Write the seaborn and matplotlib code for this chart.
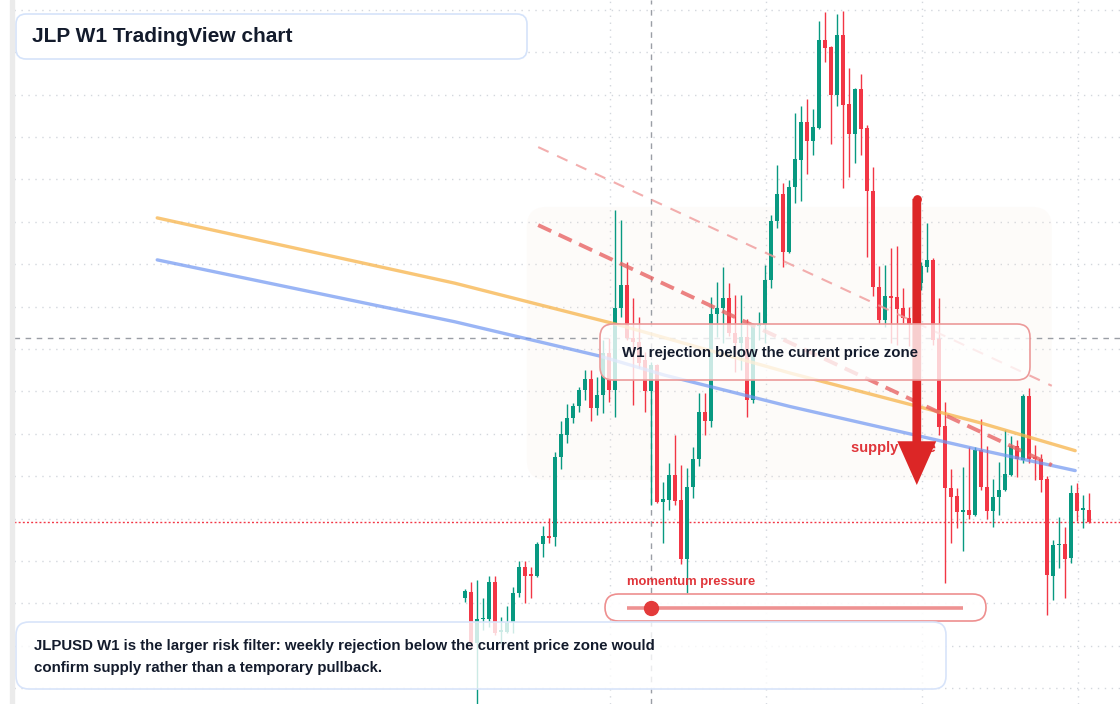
import matplotlib
matplotlib.use('Agg')
import matplotlib.pyplot as plt
import numpy as np
import pandas as pd
import seaborn as sns
from matplotlib.patches import FancyBboxPatch, FancyArrowPatch, Rectangle

# JLP 주봉(W1) 캔들 - 그림에서 읽은 값
opens = [3.812, 3.827, 3.706, 3.762, 3.763, 3.850, 3.732, 3.732, 3.756, 3.824,
         3.886, 3.867, 3.864, 3.940, 3.959, 3.956, 4.145, 4.197, 4.237, 4.265,
         4.303, 4.329, 4.261, 4.291, 4.390, 4.303, 4.496, 4.551, 4.426, 4.416,
         4.374, 4.301, 4.362, 4.039, 4.044, 4.103, 4.044, 3.904, 4.074, 4.140,
         4.251, 4.230, 4.482, 4.496, 4.520, 4.438, 4.414, 4.428, 4.279, 4.455,
         4.456, 4.563, 4.702, 4.765, 4.629, 4.782, 4.846, 4.935, 4.890, 4.921,
         5.129, 5.112, 4.999, 5.140, 4.978, 4.907, 5.013, 4.921, 4.772, 4.546,
         4.468, 4.525, 4.522, 4.496, 4.473, 4.461, 4.555, 4.593, 4.610, 4.423,
         4.218, 4.072, 4.053, 4.015, 4.020, 4.008, 4.162, 4.074, 4.018, 4.051,
         4.067, 4.103, 4.171, 4.138, 4.289, 4.145, 4.140, 4.093, 3.864, 3.937,
         3.940, 3.907, 4.060, 4.020, 4.020]
highs = [3.834, 3.850, 3.855, 3.812, 3.864, 3.864, 3.768, 3.794, 3.838, 3.900,
         3.900, 3.886, 3.945, 3.982, 4.001, 4.157, 4.230, 4.270, 4.272, 4.310,
         4.350, 4.350, 4.334, 4.421, 4.426, 4.728, 4.704, 4.605, 4.520, 4.475,
         4.393, 4.369, 4.364, 4.086, 4.131, 4.197, 4.126, 4.119, 4.169, 4.296,
         4.296, 4.522, 4.558, 4.593, 4.555, 4.527, 4.527, 4.471, 4.459, 4.487,
         4.598, 4.716, 4.834, 4.791, 4.798, 4.956, 4.973, 4.989, 4.966, 5.173,
         5.195, 5.114, 5.190, 5.197, 5.063, 5.015, 5.048, 4.928, 4.829, 4.596,
         4.598, 4.638, 4.643, 4.544, 4.499, 4.567, 4.605, 4.697, 4.614, 4.520,
         4.275, 4.117, 4.072, 4.121, 4.169, 4.169, 4.235, 4.171, 4.093, 4.133,
         4.209, 4.195, 4.185, 4.294, 4.308, 4.173, 4.152, 4.100, 3.949, 4.004,
         3.980, 4.079, 4.084, 4.055, 4.060]
lows = [3.803, 3.695, 3.544, 3.737, 3.744, 3.725, 3.706, 3.730, 3.730, 3.815,
        3.801, 3.812, 3.862, 3.909, 3.942, 3.935, 4.117, 4.178, 4.225, 4.251,
        4.279, 4.230, 4.244, 4.249, 4.275, 4.239, 4.475, 4.421, 4.268, 4.355,
        4.251, 4.032, 4.037, 3.942, 4.020, 4.032, 3.893, 3.824, 4.048, 4.124,
        4.197, 4.216, 4.428, 4.414, 4.430, 4.346, 4.350, 4.239, 4.272, 4.421,
        4.414, 4.544, 4.685, 4.593, 4.626, 4.744, 4.749, 4.813, 4.857, 4.919,
        5.077, 4.883, 4.973, 4.779, 4.805, 4.838, 4.857, 4.617, 4.525, 4.459,
        4.452, 4.414, 4.409, 4.461, 4.407, 4.445, 4.539, 4.581, 4.409, 4.197,
        3.848, 3.942, 3.978, 3.923, 3.999, 4.006, 4.067, 3.999, 3.980, 4.008,
        4.065, 4.101, 4.098, 4.131, 4.131, 4.091, 4.063, 3.772, 3.808, 3.883,
        3.812, 3.895, 3.994, 3.978, 3.989]
closes = [3.829, 3.706, 3.763, 3.766, 3.850, 3.730, 3.735, 3.756, 3.824, 3.886,
          3.864, 3.864, 3.940, 3.959, 3.955, 4.145, 4.199, 4.237, 4.265, 4.303,
          4.329, 4.261, 4.291, 4.390, 4.303, 4.496, 4.551, 4.426, 4.416, 4.367,
          4.301, 4.362, 4.039, 4.046, 4.103, 4.041, 3.904, 4.074, 4.140, 4.251,
          4.230, 4.482, 4.496, 4.520, 4.438, 4.414, 4.428, 4.279, 4.456, 4.459,
          4.563, 4.702, 4.765, 4.629, 4.782, 4.848, 4.935, 4.890, 4.923, 5.129,
          5.110, 4.999, 5.140, 4.975, 4.907, 5.013, 4.919, 4.772, 4.546, 4.468,
          4.525, 4.521, 4.494, 4.473, 4.459, 4.555, 4.596, 4.610, 4.421, 4.216,
          4.072, 4.051, 4.015, 4.020, 4.008, 4.162, 4.074, 4.018, 4.051, 4.067,
          4.105, 4.171, 4.140, 4.289, 4.140, 4.140, 4.091, 3.867, 3.938, 3.940,
          3.904, 4.060, 4.018, 4.022, 3.991]

# 이동평균선 두 개 (캔들 번호, 가격)
ma_fast_x = [-51.3, -1.7, 25.8, 54.2, 85.8, 101.7]
ma_fast = [4.709, 4.555, 4.456, 4.343, 4.226, 4.160]
ma_slow_x = [-51.3, -1.7, 22.5, 33.3, 54.2, 85.8, 101.7]
ma_slow = [4.610, 4.464, 4.383, 4.338, 4.264, 4.162, 4.113]

# 하락 추세선 두 개
trend_x = [12.2, 97.8]
trend_main = [4.692, 4.126]
trend_outer = [4.876, 4.313]

# 저항 구간, 화살표, 십자선
zone_x = [10.3, 97.8]
zone_y = [4.091, 4.735]
arrow_x = 75.3
arrow_from, arrow_to = 4.754, 4.079
supply_x, supply_y = 64.3, 4.166
cross_x, cross_y = 31, 4.425
time_ticks = [24.1, 50.1, 76.1, 102.1]
momentum = 0.07

title = 'JLP W1 TradingView chart'
zone_note = 'W1 rejection below the current price zone'
footer = ('JLPUSD W1 is the larger risk filter: weekly rejection below the current price zone would\n'
          'confirm supply rather than a temporary pullback.')

UP, DOWN = '#089981', '#f23645'
INK = '#131b2c'
W, H = 1120, 704

sns.set_theme(style='white')
plt.rcParams['font.family'] = ['Liberation Sans', 'DejaVu Sans']

df = pd.DataFrame({'o': opens, 'h': highs, 'l': lows, 'c': closes})
df['i'] = np.arange(len(df))
df['color'] = np.where(df.c >= df.o, UP, DOWN)
df['bottom'] = df[['o', 'c']].min(axis=1)
df['body'] = (df.c - df.o).abs().clip(lower=0.004)

fig = plt.figure(figsize=(W / 100, H / 100), dpi=100)
ax = fig.add_axes([14 / W, 0, 1 - 14 / W, 1])

# 구간 배경
zone = FancyBboxPatch((zone_x[0], zone_y[0]), zone_x[1] - zone_x[0], zone_y[1] - zone_y[0],
                      boxstyle='round,pad=0,rounding_size=3.3', mutation_aspect=6 / 424,
                      fc='#f5e2d4', ec='none', alpha=0.13, zorder=1)
ax.add_patch(zone)

# 십자선, 현재가 선
ax.axvline(cross_x, color='#9a9ea5', lw=1, ls=(0, (4, 4)), zorder=2)
ax.axhline(cross_y, color='#9a9ea5', lw=1, ls=(0, (4, 4)), zorder=2)
ax.axhline(closes[-1], color=DOWN, lw=1, ls=(0, (1.4, 1.6)), zorder=2)

# 캔들
ax.vlines(df.i, df.l, df.h, colors=df.color, lw=1, zorder=3)
ax.bar(df.i, df.body, bottom=df.bottom, width=0.8, color=df.color, lw=0, zorder=4)

# 이동평균선 / 추세선
sns.lineplot(x=ma_fast_x, y=ma_fast, ax=ax, color='#f7b44a', lw=2.4, alpha=0.75, sort=False, zorder=5)
sns.lineplot(x=ma_slow_x, y=ma_slow, ax=ax, color='#6f96f2', lw=2.4, alpha=0.7, sort=False, zorder=5)
ax.plot(trend_x, trend_outer, color='#f09a9a', lw=1.5, ls=(0, (5.5, 4.5)), alpha=0.8, zorder=5)
ax.plot(trend_x, trend_main, color='#e86464', lw=2.8, ls=(0, (3.7, 2.1)), alpha=0.8, zorder=5)

ax.text(supply_x, supply_y, 'supply zone', color='#e0353a', fontsize=10.5,
        fontweight='bold', va='center', zorder=6)
arrow = FancyArrowPatch((arrow_x, arrow_from), (arrow_x, arrow_to),
                        arrowstyle='simple,head_length=4.5,head_width=4,tail_width=0.9',
                        mutation_scale=7, color='#dc2626', lw=0, shrinkA=0, shrinkB=0, zorder=7)
ax.add_patch(arrow)
ax.plot([arrow_x], [arrow_from], marker='o', ms=6.3, mew=0, color='#dc2626', zorder=7)

# 축 범위와 그리드
ax.set_xlim(-75.17, 109.17)
ax.set_ylim(3.5625, 5.2229)
ax.set_yticks(np.arange(3.6, 5.25, 0.1))
ax.set_xticks(time_ticks)
ax.grid(True, color='#d3d7dd', lw=1, ls=(0, (1, 4)))
ax.tick_params(length=0, labelleft=False, labelbottom=False)
ax.set_xlabel('')
ax.set_ylabel('')
for s in ax.spines.values():
    s.set_visible(False)
ax.set_axisbelow(True)


def card(x0, y0, x1, y1, r, fc, ec, lw, z=10):
    p = FancyBboxPatch((x0 / W, 1 - y1 / H), (x1 - x0) / W, (y1 - y0) / H,
                       boxstyle=f'round,pad=0,rounding_size={r / W}', mutation_aspect=W / H,
                       transform=fig.transFigure, fc=fc, ec=ec, lw=lw, zorder=z)
    fig.add_artist(p)


# 제목
card(16, 14, 527, 59, 10, 'white', '#d5e3fa', 1.2)
fig.text(32 / W, 1 - 36.5 / H, title, fontsize=15, fontweight='bold', color=INK, va='center', zorder=11)

# 구간 설명 박스
card(600, 324, 1030, 380, 13, (1, 1, 1, 0.78), '#ec9a9a', 1.2)
fig.text(622 / W, 1 - 353 / H, zone_note, fontsize=10.8, fontweight='bold', color=INK,
         va='center', zorder=11)

# 모멘텀 슬라이더
fig.text(627 / W, 1 - 582 / H, 'momentum pressure', fontsize=9.4, fontweight='bold',
         color='#e0353a', va='center', zorder=11)
card(605, 594, 986, 621, 13.5, (1, 1, 1, 0.92), '#ee8f8f', 1.2)
sx0, sx1, sy = 627 / W, 963 / W, 1 - 607.7 / H
fig.add_artist(plt.Line2D([sx0, sx1], [sy, sy], color='#ec7f7f', lw=2.6, alpha=0.85,
                          solid_capstyle='butt', transform=fig.transFigure, zorder=11))
fig.add_artist(plt.Line2D([sx0 + momentum * (sx1 - sx0)], [sy], marker='o', ms=10,
                          color='#e33b3b', transform=fig.transFigure, zorder=12))

# 하단 설명 박스
card(16, 622, 946, 689, 13, (1, 1, 1, 0.8), '#d8e4fa', 1.2)
fig.text(34 / W, 1 - 657 / H, footer, fontsize=10.8, fontweight='bold', color=INK,
         va='center', linespacing=1.65, zorder=11)

# 왼쪽 회색 띠
fig.add_artist(Rectangle((10 / W, 0), 4 / W, 1, transform=fig.transFigure, color='#ebebeb', zorder=10))

fig.savefig('out.png', dpi=100)
